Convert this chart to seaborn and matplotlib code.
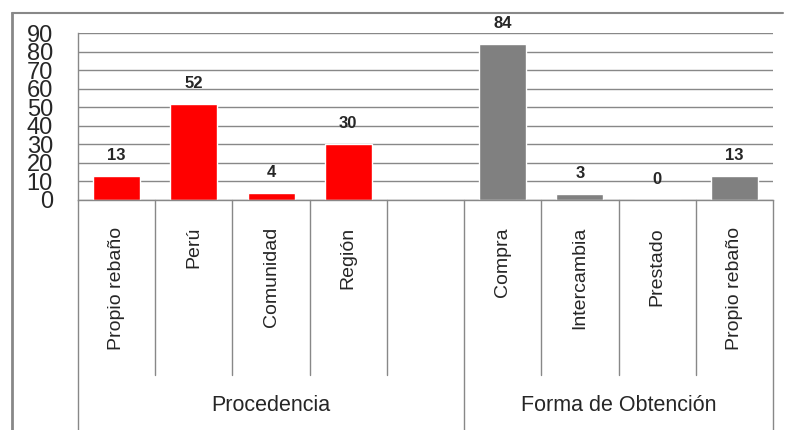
import matplotlib
matplotlib.use("Agg")
import matplotlib.pyplot as plt
import seaborn as sns
import pandas as pd
from matplotlib.lines import Line2D
from matplotlib.transforms import blended_transform_factory

# Origin of the animals and how they were obtained (%)
procedencia_labels = ["Propio rebaño", "Perú", "Comunidad", "Región"]
procedencia_values = [13, 52, 4, 30]
obtencion_labels = ["Compra", "Intercambia", "Prestado", "Propio rebaño"]
obtencion_values = [84, 3, 0, 13]
group_names = ["Procedencia", "Forma de Obtención"]
group_colors = ["#FF0000", "#808080"]
y_ticks = [0, 10, 20, 30, 40, 50, 60, 70, 80, 90]

sns.set_style("white")
plt.rcParams["font.family"] = ["Liberation Sans", "DejaVu Sans"]

# One slot per category, with an empty slot separating the two groups
slots_p = [f"p{i}" for i in range(len(procedencia_labels))]
slots_o = [f"o{i}" for i in range(len(obtencion_labels))]
order = slots_p + ["gap"] + slots_o
tick_labels = procedencia_labels + [""] + obtencion_labels

df = pd.DataFrame({
    "slot": slots_p + slots_o,
    "valor": procedencia_values + obtencion_values,
    "grupo": [group_names[0]] * len(slots_p) + [group_names[1]] * len(slots_o),
})

W, H = 785, 430
fig = plt.figure(figsize=(W / 100, H / 100), dpi=100)
ax = fig.add_axes([78 / W, 1 - 200 / H, (773 - 78) / W, 167 / H])

sns.barplot(data=df, x="slot", y="valor", hue="grupo", order=order,
            hue_order=group_names, palette=dict(zip(group_names, group_colors)),
            dodge=False, width=0.61, saturation=1, legend=False, ax=ax)

grid_c = "#888888"
ax.set_xlim(-0.5, len(order) - 0.5)
ax.set_ylim(0, 90)
ax.set_yticks(y_ticks)
ax.set_yticklabels([str(t) for t in y_ticks])
ax.yaxis.grid(True, color=grid_c, linewidth=1)
ax.set_axisbelow(True)
ax.set_xlabel("")
ax.set_ylabel("")
for side in ["top", "right"]:
    ax.spines[side].set_visible(False)
for side in ["left", "bottom"]:
    ax.spines[side].set_color(grid_c)
    ax.spines[side].set_linewidth(1)

ax.set_xticks(range(len(order)))
ax.set_xticklabels(tick_labels, rotation=90, va="top", ha="center", fontsize=14)
ax.tick_params(axis="x", length=0, pad=19.4)
ax.tick_params(axis="y", length=0, pad=18, labelsize=17)

# Value labels above each bar
positions = [order.index(s) for s in df["slot"]]
for x, v in zip(positions, df["valor"]):
    ax.annotate(str(v), xy=(x, v), xytext=(0, 11.5), textcoords="offset points",
                ha="center", va="baseline", fontsize=12, fontweight="bold")

# Category table below the axis
trans = blended_transform_factory(ax.transData, ax.transAxes)
n = len(order)
for b in [i + 0.5 for i in range(n - 1)]:
    if b == 4.5:
        continue
    ax.plot([b, b], [0, -1.048], transform=trans, color=grid_c, lw=1, clip_on=False)
for b in [-0.5, 4.5, n - 0.5]:
    ax.plot([b, b], [0, -1.5], transform=trans, color=grid_c, lw=1, clip_on=False)

ax.text(2.0, -1.228, group_names[0], transform=trans, ha="center", va="center", fontsize=15.5)
ax.text(6.5, -1.228, group_names[1], transform=trans, ha="center", va="center", fontsize=15.5)

# Outer chart frame
frame_c = "#888888"
fig.add_artist(Line2D([12 / W, 12 / W], [0, 1 - 13 / H], transform=fig.transFigure,
                      color=frame_c, lw=2))
fig.add_artist(Line2D([12 / W, 783 / W], [1 - 13 / H, 1 - 13 / H], transform=fig.transFigure,
                      color=frame_c, lw=1.5))

fig.savefig("out.png", dpi=100)
